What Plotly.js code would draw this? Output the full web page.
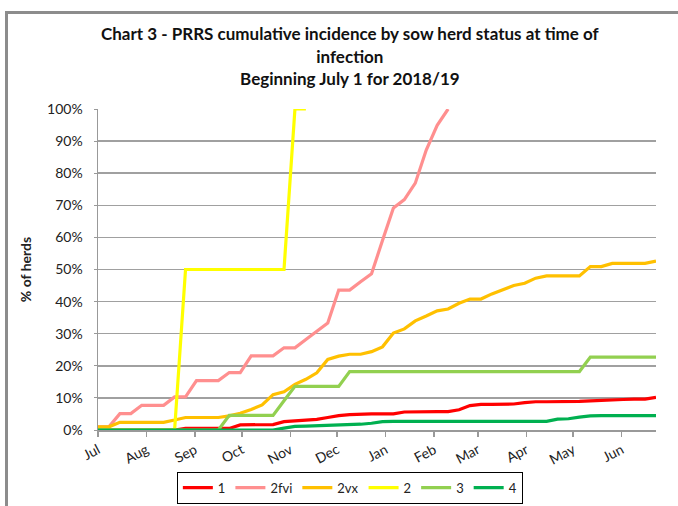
<!DOCTYPE html>
<html>
<head>
<meta charset="utf-8">
<script src="https://cdn.plot.ly/plotly-3.0.1.min.js"></script>
<style>
  html, body { margin: 0; padding: 0; background: #fff; }
  #wrap { position: relative; width: 678px; height: 506px; overflow: hidden; }
  #chart { position: absolute; left: 0; top: 0; width: 678px; height: 506px; }
  #frame { position: absolute; left: 5px; top: 11px; width: 700px; height: 520px;
           border-left: 3px solid #8c8c8c; border-top: 3px solid #8c8c8c; pointer-events: none; }
</style>
</head>
<body>
<div id="wrap">
  <div id="chart"></div>
  <div id="frame"></div>
</div>
<script>
// Weekly dates, July 2018 - June 2019
const weeks = [
  "2018-07-01","2018-07-08","2018-07-15","2018-07-22","2018-07-29",
  "2018-08-05","2018-08-12","2018-08-19","2018-08-26",
  "2018-09-02","2018-09-09","2018-09-16","2018-09-23","2018-09-30",
  "2018-10-07","2018-10-14","2018-10-21","2018-10-28",
  "2018-11-04","2018-11-11","2018-11-18","2018-11-25",
  "2018-12-02","2018-12-09","2018-12-16","2018-12-23","2018-12-30",
  "2019-01-06","2019-01-13","2019-01-20","2019-01-27",
  "2019-02-03","2019-02-10","2019-02-17","2019-02-24",
  "2019-03-03","2019-03-10","2019-03-17","2019-03-24","2019-03-31",
  "2019-04-07","2019-04-14","2019-04-21","2019-04-28",
  "2019-05-05","2019-05-12","2019-05-19","2019-05-26",
  "2019-06-02","2019-06-09","2019-06-16","2019-06-23"
];

// Cumulative incidence (% of herds), by sow herd status
const s1 = [0,0,0,0,0,0,0,0,0.5,0.5,0.5,0.5,0.5,1.6,1.6,1.6,1.7,2.6,2.8,2.9,3.3,3.9,4.5,4.8,5.0,5.0,5.0,5.0,5.6,5.7,5.7,5.7,5.7,6.3,7.6,8.0,8.0,8.0,8.1,8.5,8.8,8.8,8.8,8.8,8.9,9.1,9.3,9.4,9.5,9.6,9.6,10.2];
const s2fvi = [1.0,1.0,5.1,5.1,7.7,7.7,7.7,10.3,10.3,15.4,15.4,15.4,17.9,17.9,23.1,23.1,23.1,25.6,25.6,28.2,30.8,33.3,43.6,43.6,46.2,48.7,59.0,69.2,71.8,76.9,87.2,94.9,100,
  null,null,null,null,null,null,null,null,null,null,null,null,null,null,null,null,null,null,null];
const s2vx = [1.0,1.0,2.4,2.4,2.4,2.4,2.4,3.1,3.9,3.9,3.9,3.9,4.4,5.2,6.4,7.8,11.0,11.9,14.2,15.8,17.8,22.0,23.0,23.6,23.6,24.4,25.9,30.2,31.5,34.0,35.5,37.1,37.7,39.5,40.8,40.8,42.4,43.6,45.0,45.7,47.3,48.0,48.0,48.0,48.0,50.9,50.9,51.9,51.9,51.9,51.9,52.6];
const s2 = [0,0,0,0,0,0,0,0,50,50,50,50,50,50,50,50,50,50,100,100,
  null,null,null,null,null,null,null,null,null,null,null,null,null,null,null,null,null,null,null,null,null,null,null,null,null,null,null,null,null,null,null,null];
const s3 = [0,0,0,0,0,0,0,0,0,0,0,0,4.55,4.55,4.55,4.55,4.55,9.1,13.6,13.6,13.6,13.6,13.6,18.2,18.2,18.2,18.2,18.2,18.2,18.2,18.2,18.2,18.2,18.2,18.2,18.2,18.2,18.2,18.2,18.2,18.2,18.2,18.2,18.2,18.2,22.7,22.7,22.7,22.7,22.7,22.7,22.7];
const s4 = [0,0,0,0,0,0,0,0,0,0,0,0,0,0,0,0,0,0.6,1.1,1.2,1.3,1.4,1.5,1.6,1.8,2.1,2.6,2.7,2.7,2.7,2.7,2.7,2.7,2.7,2.7,2.7,2.7,2.7,2.7,2.7,2.7,2.7,3.4,3.5,4.0,4.4,4.5,4.5,4.5,4.5,4.5,4.5];

const seriesNames = ["1","2fvi","2vx","2","3","4"];
const seriesData = [s1, s2fvi, s2vx, s2, s3, s4];
const seriesColors = ["#FF0000","#FF8F8F","#FFC000","#FFFF00","#92D050","#00B050"];

const FONT = "Lato, 'Open Sans', sans-serif";

const traces = seriesNames.map((n, i) => ({
  type: "scatter", mode: "lines", name: n,
  x: weeks, y: seriesData[i],
  line: { color: seriesColors[i], width: 3.2 },
  connectgaps: false
}));

const layout = {
  width: 678, height: 506,
  paper_bgcolor: "#ffffff", plot_bgcolor: "#ffffff",
  margin: { l: 98, r: 22, t: 109, b: 76 },
  font: { family: FONT, color: "#222", size: 13 },
  title: {
    text: "<b>Chart 3 - PRRS cumulative incidence by sow herd status at time of<br>infection<br>Beginning July 1 for 2018/19</b>",
    font: { family: FONT, size: 17, color: "#111" },
    x: 0.516, xanchor: "center", xref: "container",
    y: 0.920, yanchor: "top", yref: "container"
  },
  xaxis: {
    type: "date", automargin: false,
    range: ["2018-07-01", "2019-06-23"],
    tick0: "2018-07-01", dtick: "M1", tickformat: "%b",
    tickangle: -28,
    ticks: "outside", ticklen: 5, tickcolor: "#999", tickwidth: 1.5,
    showline: true, linecolor: "#999", linewidth: 1.5,
    showgrid: false, zeroline: false,
    tickfont: { family: FONT, size: 14, color: "#222" }
  },
  yaxis: {
    automargin: false,
    range: [0, 100], dtick: 10, ticksuffix: "%",
    ticks: "outside", ticklen: 3, tickcolor: "#999",
    ticklabelstandoff: 8,
    showline: true, linecolor: "#999", linewidth: 1.5,
    gridcolor: "#a0a0a0", gridwidth: 1.5, zeroline: false,
    tickfont: { family: FONT, size: 14, color: "#222" },
    title: { text: "<b>% of herds</b>", font: { family: FONT, size: 14, color: "#222" }, standoff: 12 }
  },
  showlegend: true,
  legend: {
    orientation: "h",
    xref: "container", x: 0.516, xanchor: "center",
    yref: "container", y: 0.068, yanchor: "top",
    bordercolor: "#000", borderwidth: 1, bgcolor: "#fff",
    font: { family: FONT, size: 13, color: "#222" },
    traceorder: "normal", itemwidth: 30, tracegroupgap: 0
  }
};

Plotly.newPlot("chart", traces, layout, { staticPlot: true, displayModeBar: false });
</script>
</body>
</html>
